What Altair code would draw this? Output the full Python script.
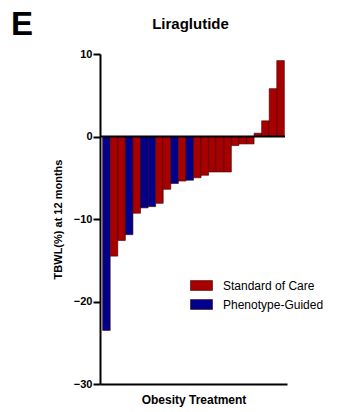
import altair as alt
import pandas as pd

groups = ["Phenotype-Guided", "Standard of Care", "Standard of Care", "Phenotype-Guided",
          "Standard of Care", "Phenotype-Guided", "Phenotype-Guided", "Standard of Care",
          "Standard of Care", "Phenotype-Guided", "Standard of Care", "Phenotype-Guided",
          "Standard of Care", "Standard of Care", "Standard of Care", "Standard of Care",
          "Standard of Care", "Standard of Care", "Standard of Care", "Standard of Care",
          "Standard of Care", "Standard of Care", "Standard of Care", "Standard of Care"]
tbwl = [-23.5, -14.5, -12.6, -11.9, -9.3, -8.65, -8.5, -8.1,
        -6.4, -5.7, -5.4, -5.3, -5.0, -4.7, -4.3, -4.3,
        -4.3, -1.1, -0.9, -0.9, 0.4, 1.9, 5.8, 9.2]
y_ticks = [10, 0, -10, -20, -30]
legend_order = ["Standard of Care", "Phenotype-Guided"]
legend_colors = ["#A80000", "#00008C"]
chart_title = ["Liraglutide"]
panel_letter = ["E"]

df = pd.DataFrame({"idx": list(range(len(tbwl))), "group": groups, "tbwl": tbwl})
FONT = "Liberation Sans"

bars = alt.Chart(df).mark_bar(stroke="#3a0000", strokeWidth=0.6).encode(
    x=alt.X("idx:O", scale=alt.Scale(paddingInner=0, paddingOuter=0.35),
            axis=alt.Axis(labels=False, ticks=False, domainWidth=2, domainColor="black",
                          title="Obesity Treatment", titleFont=FONT, titleFontSize=12,
                          titleFontWeight="bold", titleColor="black", titlePadding=10)),
    y=alt.Y("tbwl:Q", scale=alt.Scale(domain=[-30, 10], nice=False),
            axis=alt.Axis(values=y_ticks, grid=False, domainWidth=2, domainColor="black",
                          tickWidth=2, tickSize=7, tickColor="black", labelFont=FONT,
                          labelFontSize=11, labelFontWeight="bold", labelColor="black",
                          labelPadding=1,
                          title="TBWL(%) at 12 months", titleFont=FONT, titleFontSize=11,
                          titleFontWeight="bold", titleColor="black", titlePadding=10)),
    color=alt.Color("group:N", scale=alt.Scale(domain=legend_order, range=legend_colors),
                    legend=alt.Legend(title=None, orient="none", legendX=90, legendY=220,
                                      symbolType="M-1,-0.45L1,-0.45L1,0.45L-1,0.45Z",
                                      symbolSize=484, symbolStrokeColor="#3a0000",
                                      symbolStrokeWidth=0.6, symbolOpacity=1,
                                      labelFont=FONT, labelFontSize=12, labelColor="black",
                                      labelOffset=10, rowPadding=1)),
)

zero = alt.Chart(pd.DataFrame({"z": [0]})).mark_rule(color="black", strokeWidth=2).encode(
    y="z:Q", x=alt.value(0), x2=alt.value(185))

title = alt.Chart(pd.DataFrame({"t": chart_title})).mark_text(
    font=FONT, fontSize=15, fontWeight="bold", align="center", baseline="alphabetic",
    color="black"
).encode(text="t:N", x=alt.value(90.5), y=alt.value(-25))

letter = alt.Chart(pd.DataFrame({"t": panel_letter})).mark_text(
    font=FONT, fontSize=33, fontWeight="bold", align="left", baseline="alphabetic",
    color="black"
).encode(text="t:N", x=alt.value(-89), y=alt.value(-19))

chart = alt.layer(bars, zero, title, letter).properties(
    width=187, height=330,
    autosize=alt.AutoSizeParams(type="none"),
    padding={"left": 100, "top": 54, "right": 55, "bottom": 28},
).configure_view(stroke=None)

chart.save("out.html", embed_options={"renderer": "svg", "actions": False})
